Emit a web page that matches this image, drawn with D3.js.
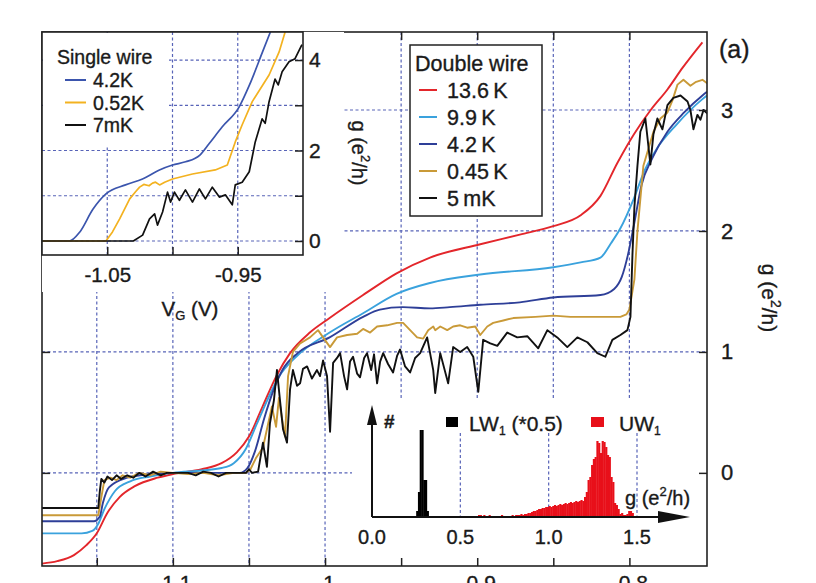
<!DOCTYPE html>
<html>
<head>
<meta charset="utf-8">
<script src="https://cdn.jsdelivr.net/npm/d3@7"></script>
<style>
  body { margin: 0; background: #fff; }
  svg text { font-family: "Liberation Sans", Arial, sans-serif; fill: #1a1a1a; stroke: #1a1a1a; stroke-width: 0.35px; }
</style>
</head>
<body>
<svg id="chart" width="816" height="583"></svg>
<script>
// ---------- data ----------
// double wire, [V_G (V), g (e^2/h)]
const dw136K = [[-1.186,-0.75],[-1.176,-0.73],[-1.165,-0.68],[-1.157,-0.60],[-1.150,-0.50],[-1.143,-0.33],[-1.135,-0.20],[-1.125,-0.11],[-1.110,-0.04],[-1.100,-0.01],[-1.081,0.03],[-1.068,0.08],[-1.058,0.17],[-1.050,0.30],[-1.041,0.55],[-1.032,0.80],[-1.023,0.99],[-1.010,1.16],[-0.997,1.28],[-0.975,1.47],[-0.953,1.65],[-0.931,1.78],[-0.898,1.89],[-0.872,1.97],[-0.850,2.04],[-0.832,2.13],[-0.819,2.29],[-0.808,2.56],[-0.797,2.80],[-0.786,3.00],[-0.775,3.17],[-0.765,3.35],[-0.752,3.56]];
const dw99K = [[-1.186,-0.50],[-1.160,-0.50],[-1.153,-0.48],[-1.149,-0.42],[-1.145,-0.30],[-1.138,-0.15],[-1.128,-0.07],[-1.115,-0.03],[-1.100,0.00],[-1.081,0.02],[-1.068,0.04],[-1.060,0.08],[-1.052,0.20],[-1.045,0.40],[-1.038,0.60],[-1.030,0.80],[-1.019,0.96],[-0.997,1.16],[-0.975,1.32],[-0.953,1.48],[-0.931,1.57],[-0.898,1.64],[-0.850,1.70],[-0.832,1.74],[-0.819,1.78],[-0.812,1.90],[-0.806,2.02],[-0.797,2.27],[-0.790,2.50],[-0.782,2.68],[-0.769,2.88],[-0.752,3.09],[-0.749,3.12]];
const dw42K = [[-1.186,-0.40],[-1.152,-0.40],[-1.148,-0.36],[-1.146,-0.25],[-1.142,-0.12],[-1.130,-0.04],[-1.115,-0.01],[-1.100,0.00],[-1.056,0.00],[-1.051,0.04],[-1.046,0.18],[-1.040,0.45],[-1.034,0.68],[-1.028,0.85],[-1.018,0.99],[-0.997,1.12],[-0.975,1.29],[-0.964,1.35],[-0.949,1.37],[-0.931,1.36],[-0.918,1.37],[-0.898,1.39],[-0.872,1.41],[-0.850,1.45],[-0.819,1.47],[-0.810,1.52],[-0.805,1.62],[-0.801,1.80],[-0.797,2.05],[-0.792,2.38],[-0.785,2.60],[-0.775,2.82],[-0.764,2.98],[-0.752,3.12],[-0.749,3.15]];
const dw045K = [[-1.186,-0.35],[-1.149,-0.35],[-1.147,-0.20],[-1.145,-0.06],[-1.141,-0.04],[-1.137,-0.06],[-1.133,-0.02],[-1.128,-0.04],[-1.122,0.00],[-1.115,-0.02],[-1.108,0.01],[-1.100,0.00],[-1.090,-0.01],[-1.080,0.00],[-1.070,-0.02],[-1.060,0.00],[-1.052,0.00],[-1.049,0.03],[-1.0455,0.12],[-1.0408,0.21],[-1.0375,0.40],[-1.0349,0.55],[-1.0322,0.38],[-1.0303,0.62],[-1.0283,0.45],[-1.0263,0.30],[-1.0243,0.80],[-1.0211,1.00],[-1.0164,1.07],[-1.0099,1.12],[-1.0046,1.18],[-1.0013,1.12],[-0.9967,1.04],[-0.9921,1.12],[-0.9855,1.14],[-0.9789,1.15],[-0.9750,1.19],[-0.9704,1.16],[-0.9658,1.21],[-0.9592,1.22],[-0.9526,1.24],[-0.9487,1.24],[-0.9441,1.18],[-0.9395,1.12],[-0.9355,1.11],[-0.9322,1.18],[-0.9289,1.21],[-0.9276,1.18],[-0.9243,1.21],[-0.9197,1.18],[-0.9158,1.21],[-0.9112,1.22],[-0.9066,1.20],[-0.9013,1.21],[-0.8980,1.14],[-0.8934,1.21],[-0.8895,1.24],[-0.8829,1.26],[-0.8763,1.28],[-0.8618,1.29],[-0.8500,1.30],[-0.8388,1.29],[-0.8257,1.29],[-0.8125,1.29],[-0.8059,1.29],[-0.8020,1.31],[-0.8000,1.35],[-0.7967,1.60],[-0.7947,2.00],[-0.7908,2.54],[-0.7842,2.82],[-0.7796,2.93],[-0.7750,2.98],[-0.7717,3.08],[-0.7684,3.21],[-0.7645,3.25],[-0.7599,3.20],[-0.7566,3.23],[-0.7520,3.25],[-0.7487,3.22]];
const dw5mK = [[-1.186,-0.29],[-1.149,-0.29],[-1.148,-0.15],[-1.147,-0.05],[-1.145,-0.08],[-1.143,-0.03],[-1.140,-0.06],[-1.137,-0.02],[-1.134,-0.05],[-1.130,-0.02],[-1.126,-0.04],[-1.122,0.00],[-1.118,-0.03],[-1.113,0.01],[-1.108,-0.02],[-1.104,0.00],[-1.090,0.00],[-1.085,-0.02],[-1.080,0.01],[-1.075,0.00],[-1.070,-0.03],[-1.065,0.00],[-1.052,0.00],[-1.050,0.03],[-1.048,0.00],[-1.044,0.01],[-1.0408,0.25],[-1.0382,0.05],[-1.0362,0.41],[-1.0336,0.60],[-1.0316,0.85],[-1.0296,0.60],[-1.0276,0.36],[-1.0250,0.25],[-1.0230,0.69],[-1.0211,0.85],[-1.0184,0.72],[-1.0164,0.74],[-1.0145,0.86],[-1.0118,0.88],[-1.0086,0.78],[-1.0053,0.85],[-1.0033,0.80],[-1.0013,0.93],[-0.9987,0.80],[-0.9967,0.34],[-0.9947,0.91],[-0.9921,0.95],[-0.9901,0.99],[-0.9875,0.80],[-0.9855,0.69],[-0.9836,0.92],[-0.9816,0.96],[-0.9789,0.82],[-0.9770,0.79],[-0.9743,0.95],[-0.9724,0.99],[-0.9697,0.85],[-0.9678,0.98],[-0.9658,0.74],[-0.9638,0.92],[-0.9618,0.99],[-0.9586,0.90],[-0.9553,0.83],[-0.9526,0.97],[-0.9507,1.02],[-0.9474,0.88],[-0.9441,0.83],[-0.9408,0.95],[-0.9375,0.99],[-0.9329,1.12],[-0.9289,0.85],[-0.9276,0.66],[-0.9243,0.99],[-0.9191,0.74],[-0.9158,1.04],[-0.9112,1.00],[-0.9066,1.04],[-0.9026,0.96],[-0.8993,0.67],[-0.8961,1.10],[-0.8914,1.07],[-0.8868,1.05],[-0.8803,1.16],[-0.8737,1.12],[-0.8671,1.13],[-0.8599,1.03],[-0.8539,1.18],[-0.8474,1.12],[-0.8408,1.04],[-0.8342,1.12],[-0.8276,1.08],[-0.8211,0.99],[-0.8158,0.96],[-0.8112,1.10],[-0.8059,1.14],[-0.8013,1.18],[-0.7993,1.29],[-0.7980,1.80],[-0.7967,2.20],[-0.7947,2.54],[-0.7928,2.82],[-0.7895,2.93],[-0.7862,2.55],[-0.7842,2.80],[-0.7816,2.93],[-0.7783,2.84],[-0.7750,3.04],[-0.7711,3.10],[-0.7664,3.12],[-0.7618,3.07],[-0.7599,3.00],[-0.7579,2.84],[-0.7553,2.96],[-0.7533,2.92],[-0.7513,3.00],[-0.7487,2.97]];

// single wire inset
const sw42K = [[-1.100,0],[-1.079,0],[-1.071,0.20],[-1.061,0.70],[-1.051,1.04],[-1.036,1.24],[-1.023,1.37],[-1.010,1.57],[-1.000,1.68],[-0.990,1.75],[-0.979,1.90],[-0.972,2.15],[-0.962,2.52],[-0.949,2.96],[-0.941,3.45],[-0.931,4.18],[-0.925,4.62]];
const sw052K = [[-1.100,0],[-1.051,0],[-1.046,0.20],[-1.0405,0.49],[-1.0328,0.93],[-1.028,1.10],[-1.0252,1.19],[-1.022,1.25],[-1.018,1.22],[-1.0153,1.28],[-1.013,1.30],[-1.0099,1.24],[-1.006,1.30],[-1.000,1.37],[-0.9847,1.48],[-0.9672,1.57],[-0.958,1.68],[-0.9519,2.19],[-0.9466,2.57],[-0.9389,3.08],[-0.926,3.67],[-0.9183,4.18],[-0.9137,4.62]];
const sw7mK = [[-1.100,0],[-1.030,0],[-1.0229,0.13],[-1.0176,0.49],[-1.0137,0.60],[-1.0115,0.35],[-1.0076,0.64],[-1.0038,1.08],[-1.0015,0.86],[-0.9985,1.08],[-0.9947,0.90],[-0.9901,1.13],[-0.9847,0.86],[-0.9794,1.15],[-0.9748,0.93],[-0.9695,1.19],[-0.9641,0.97],[-0.9595,1.02],[-0.9542,0.80],[-0.9519,1.24],[-0.9466,1.30],[-0.9412,1.53],[-0.9366,2.19],[-0.9313,2.70],[-0.9290,2.60],[-0.926,3.08],[-0.9214,3.58],[-0.919,3.45],[-0.916,3.74],[-0.9107,3.96],[-0.9061,4.03],[-0.9008,4.34]];

// histogram of g, bins 0.01 wide
const histBin = 0.01;
const lwStart = 0.25;
const lwCounts = [6, 25, 87, 87, 37, 37, 6];
const uwStart = 0.60;
const uwCounts = [2,2,1,2,1,1,2,1,1,1, 1,1,1,2,1,1,1,1,1,2, 1,2,2,2,3,2,3,3,4,4,
  5,6,6,7,8,8,9,9,10,10, 11,10,11,12,11,12,13,12,13,14, 13,14,15,14,15,16,15,16,17,16,
  20,25,37,40,52,58,60,76,74,64, 76,75,70,62,60,40,35,14,12,8, 3,4,2,2,3,6,6,4];

// ticks
const mainXTicks = [-1.15, -1.1, -1.05, -1, -0.95, -0.9, -0.85, -0.8];
const mainXLabels = [-1.1, -1, -0.9, -0.8];
const mainYTicks = [0, 1, 2, 3];
const insetXTicks = [-1.05, -1, -0.95];
const insetXLabels = [-1.05, -0.95];
const insetYTicks = [0, 1, 2, 3, 4];
const insetYLabels = [0, 2, 4];
const histTicks = [0, 0.5, 1, 1.5];

const doubleSeries = [
  { name: '13.6\u2009K', data: dw136K, color: '#e3262b', smooth: true },
  { name: '9.9\u2009K', data: dw99K, color: '#3aa2dd', smooth: true },
  { name: '4.2\u2009K', data: dw42K, color: '#2e3f98', smooth: true },
  { name: '0.45\u2009K', data: dw045K, color: '#c99a38', smooth: false },
  { name: '5\u2009mK', data: dw5mK, color: '#111111', smooth: false }
];
const singleSeries = [
  { name: '4.2K', data: sw42K, color: '#3b55ad', smooth: true },
  { name: '0.52K', data: sw052K, color: '#f3b220', smooth: false },
  { name: '7mK', data: sw7mK, color: '#111111', smooth: false }
];

// ---------- layout ----------
const frame = { left: 42, right: 707, top: 32, bottom: 566 };
const inset = { left: 42, right: 303, top: 32, bottom: 255 };
const gridColor = '#5864b8';
const gridDash = '3,2.5';

const svg = d3.select('#chart');
const defs = svg.append('defs');

const x = d3.scaleLinear().domain([-1.186, -0.749]).range([frame.left, frame.right]);
const y = d3.scaleLinear().domain([-0.77, 3.645]).range([frame.bottom, frame.top]);

defs.append('clipPath').attr('id', 'mainClip').append('rect')
    .attr('x', frame.left).attr('y', frame.top)
    .attr('width', frame.right - frame.left).attr('height', frame.bottom - frame.top);

// main grid
const grid = svg.append('g');
grid.selectAll('.gv').data(mainXTicks).join('line')
    .attr('x1', d => x(d)).attr('x2', d => x(d))
    .attr('y1', frame.top).attr('y2', frame.bottom);
grid.selectAll('.gh').data(mainYTicks).join('line')
    .attr('x1', frame.left).attr('x2', frame.right)
    .attr('y1', d => y(d)).attr('y2', d => y(d));
grid.selectAll('line')
    .attr('stroke', gridColor).attr('stroke-width', 1.2).attr('stroke-dasharray', gridDash);

// histogram inset (white panel hides the grid behind it)
svg.append('rect').attr('x', 352).attr('y', 398)
    .attr('width', frame.right - 352).attr('height', frame.bottom - 398).attr('fill', '#fff');

const hx = d3.scaleLinear().domain([0, 1.5]).range([372, 637]);
const hy = d3.scaleLinear().domain([0, 112]).range([517, 405]);
const hist = svg.append('g');

hist.selectAll('.hg').data(histTicks.slice(1)).join('line')
    .attr('x1', d => hx(d)).attr('x2', d => hx(d))
    .attr('y1', hy(84)).attr('y2', hy(0))
    .attr('stroke', gridColor).attr('stroke-width', 1.2).attr('stroke-dasharray', gridDash);

const lwBins = lwCounts.map((n, i) => ({ g: lwStart + i * histBin, n }));
const uwBins = uwCounts.map((n, i) => ({ g: uwStart + i * histBin, n }));
const barW = hx(histBin) - hx(0);

hist.append('g').selectAll('rect').data(uwBins).join('rect')
    .attr('x', d => hx(d.g)).attr('width', barW + 0.4)
    .attr('y', d => hy(d.n)).attr('height', d => hy(0) - hy(d.n))
    .attr('fill', '#e8101a');
hist.append('g').selectAll('rect').data(lwBins).join('rect')
    .attr('x', d => hx(d.g)).attr('width', barW + 0.4)
    .attr('y', d => hy(d.n)).attr('height', d => hy(0) - hy(d.n))
    .attr('fill', '#000');

// arrows
hist.append('line').attr('x1', hx(0)).attr('x2', hx(1.68)).attr('y1', hy(0)).attr('y2', hy(0))
    .attr('stroke', '#111').attr('stroke-width', 2);
hist.append('path')
    .attr('d', `M${hx(1.8)},${hy(0)} L${hx(1.8) - 32},${hy(0) - 6} L${hx(1.8) - 32},${hy(0) + 6} Z`)
    .attr('fill', '#111');
hist.append('line').attr('x1', hx(0)).attr('x2', hx(0)).attr('y1', hy(0)).attr('y2', hy(100))
    .attr('stroke', '#111').attr('stroke-width', 2);
hist.append('path')
    .attr('d', `M${hx(0)},${hy(112)} L${hx(0) - 5},${hy(92)} L${hx(0) + 5},${hy(92)} Z`)
    .attr('fill', '#111');

hist.selectAll('.ht').data(histTicks).join('text')
    .attr('x', d => hx(d)).attr('y', 544)
    .attr('text-anchor', 'middle').attr('font-size', 20)
    .text(d => d3.format('.1f')(d));

hist.append('text').attr('x', 384).attr('y', 428).attr('font-size', 19).attr('font-weight', 'bold').text('#');

hist.append('rect').attr('x', 446).attr('y', 417).attr('width', 12).attr('height', 10).attr('fill', '#000');
const lwText = hist.append('text').attr('x', 469).attr('y', 431).attr('font-size', 21);
lwText.append('tspan').text('LW');
lwText.append('tspan').attr('font-size', 12).attr('dy', 4).text('1');
lwText.append('tspan').attr('dy', -4).text(' (*0.5)');
hist.append('rect').attr('x', 591).attr('y', 417).attr('width', 13).attr('height', 10).attr('fill', '#e8101a');
const uwText = hist.append('text').attr('x', 619).attr('y', 431).attr('font-size', 21);
uwText.append('tspan').text('UW');
uwText.append('tspan').attr('font-size', 12).attr('dy', 4).text('1');

const hgLabel = hist.append('text').attr('x', 625).attr('y', 505).attr('font-size', 20);
hgLabel.append('tspan').text('g (e');
hgLabel.append('tspan').attr('font-size', 13).attr('dy', -9).text('2');
hgLabel.append('tspan').attr('dy', 9).text('/h)');

// main curves
const curves = svg.append('g').attr('clip-path', 'url(#mainClip)');
doubleSeries.forEach(s => {
    const line = d3.line()
        .x(d => x(d[0])).y(d => y(d[1]))
        .curve(s.smooth ? d3.curveMonotoneX : d3.curveLinear);
    curves.append('path').datum(s.data)
        .attr('d', line).attr('fill', 'none')
        .attr('stroke', s.color).attr('stroke-width', 1.9)
        .attr('stroke-linejoin', 'round');
});

// main axes (ticks point inward)
const noLabel = () => '';
svg.append('g').attr('transform', `translate(0,${frame.bottom})`)
    .call(d3.axisBottom(x).tickValues(mainXTicks).tickSizeInner(-8).tickSizeOuter(0).tickPadding(9)
        .tickFormat(d => mainXLabels.includes(d) ? String(d) : ''))
    .call(g => g.select('.domain').remove())
    .call(g => g.selectAll('text').attr('font-size', 21));
svg.append('g').attr('transform', `translate(0,${frame.top})`)
    .call(d3.axisTop(x).tickValues(mainXTicks).tickSizeInner(-8).tickSizeOuter(0).tickFormat(noLabel))
    .call(g => g.select('.domain').remove());
svg.append('g').attr('transform', `translate(${frame.right},0)`)
    .call(d3.axisRight(y).tickValues(mainYTicks).tickSizeInner(-8).tickSizeOuter(0).tickPadding(14)
        .tickFormat(d3.format('d')))
    .call(g => g.select('.domain').remove())
    .call(g => g.selectAll('text').attr('font-size', 22));
svg.append('g').attr('transform', `translate(${frame.left},0)`)
    .call(d3.axisLeft(y).tickValues(mainYTicks).tickSizeInner(-8).tickSizeOuter(0).tickFormat(noLabel))
    .call(g => g.select('.domain').remove());
svg.selectAll('.tick line').attr('stroke', '#222').attr('stroke-width', 1.5);
svg.selectAll('.tick text').attr('fill', '#1a1a1a').style('font-family', '"Liberation Sans", Arial, sans-serif');

svg.append('rect').attr('x', frame.left).attr('y', frame.top)
    .attr('width', frame.right - frame.left).attr('height', frame.bottom - frame.top)
    .attr('fill', 'none').attr('stroke', '#222').attr('stroke-width', 1.6);

const yLabel = svg.append('text').attr('transform', 'translate(762,298) rotate(90)')
    .attr('text-anchor', 'middle').attr('font-size', 21);
yLabel.append('tspan').text('g (e');
yLabel.append('tspan').attr('font-size', 14).attr('dy', -9).text('2');
yLabel.append('tspan').attr('dy', 9).text('/h)');

svg.append('text').attr('x', 719).attr('y', 58).attr('font-size', 25).text('(a)');

// double wire legend
const leg = svg.append('g');
leg.append('rect').attr('x', 410).attr('y', 45).attr('width', 132).attr('height', 171)
    .attr('fill', '#fff').attr('stroke', '#222').attr('stroke-width', 1.5);
leg.append('text').attr('x', 415).attr('y', 71).attr('font-size', 21.5).text('Double wire');
doubleSeries.forEach((s, i) => {
    const cy = 90 + i * 27;
    leg.append('line').attr('x1', 419).attr('x2', 437).attr('y1', cy).attr('y2', cy)
        .attr('stroke', s.color).attr('stroke-width', 2);
    leg.append('text').attr('x', 447).attr('y', cy + 8).attr('font-size', 21.5).text(s.name);
});

// ---------- single wire inset ----------
const ix = d3.scaleLinear().domain([-1.1, -0.9]).range([inset.left, inset.right]);
const iy = d3.scaleLinear().domain([-0.31, 4.62]).range([inset.bottom, inset.top]);

defs.append('clipPath').attr('id', 'insetClip').append('rect')
    .attr('x', inset.left).attr('y', inset.top)
    .attr('width', inset.right - inset.left).attr('height', inset.bottom - inset.top);

const ins = svg.append('g');
ins.append('rect').attr('x', inset.left).attr('y', inset.top)
    .attr('width', 344 - inset.left).attr('height', 292 - inset.top).attr('fill', '#fff');

const igrid = ins.append('g');
igrid.selectAll('.v').data(insetXTicks).join('line')
    .attr('x1', d => ix(d)).attr('x2', d => ix(d)).attr('y1', inset.top).attr('y2', inset.bottom);
igrid.selectAll('.h').data(insetYTicks).join('line')
    .attr('x1', inset.left).attr('x2', inset.right).attr('y1', d => iy(d)).attr('y2', d => iy(d));
igrid.selectAll('line')
    .attr('stroke', gridColor).attr('stroke-width', 1.2).attr('stroke-dasharray', gridDash);

// legend area blanks the grid
ins.append('rect').attr('x', inset.left + 1).attr('y', inset.top + 1).attr('width', 126).attr('height', 112).attr('fill', '#fff');

const icurves = ins.append('g').attr('clip-path', 'url(#insetClip)');
singleSeries.forEach(s => {
    const line = d3.line()
        .x(d => ix(d[0])).y(d => iy(d[1]))
        .curve(s.smooth ? d3.curveMonotoneX : d3.curveLinear);
    icurves.append('path').datum(s.data)
        .attr('d', line).attr('fill', 'none')
        .attr('stroke', s.color).attr('stroke-width', 1.7)
        .attr('stroke-linejoin', 'round');
});

ins.append('text').attr('x', 57).attr('y', 64).attr('font-size', 19.5).text('Single wire');
singleSeries.forEach((s, i) => {
    const cy = 80 + i * 22.5;
    ins.append('line').attr('x1', 65).attr('x2', 86).attr('y1', cy).attr('y2', cy)
        .attr('stroke', s.color).attr('stroke-width', 2);
    ins.append('text').attr('x', 93).attr('y', cy + 7).attr('font-size', 19.5).text(s.name);
});

ins.append('g').attr('transform', `translate(0,${inset.bottom})`)
    .call(d3.axisBottom(ix).tickValues(insetXTicks).tickSizeInner(-8).tickSizeOuter(0).tickPadding(12)
        .tickFormat(d => insetXLabels.includes(d) ? String(d) : ''))
    .call(g => g.select('.domain').remove())
    .call(g => g.selectAll('text').attr('font-size', 20.5));
ins.append('g').attr('transform', `translate(${inset.right},0)`)
    .call(d3.axisRight(iy).tickValues(insetYTicks).tickSizeInner(-8).tickSizeOuter(0).tickPadding(6)
        .tickFormat(d => insetYLabels.includes(d) ? String(d) : ''))
    .call(g => g.select('.domain').remove())
    .call(g => g.selectAll('text').attr('font-size', 21));
ins.selectAll('.tick line').attr('stroke', '#222').attr('stroke-width', 1.5);
ins.selectAll('.tick text').attr('fill', '#1a1a1a').style('font-family', '"Liberation Sans", Arial, sans-serif');

ins.append('rect').attr('x', inset.left).attr('y', inset.top)
    .attr('width', inset.right - inset.left).attr('height', inset.bottom - inset.top)
    .attr('fill', 'none').attr('stroke', '#222').attr('stroke-width', 1.6);

const vgLabel = ins.append('text').attr('x', 190).attr('y', 316).attr('text-anchor', 'middle').attr('font-size', 20.5);
vgLabel.append('tspan').text('V');
vgLabel.append('tspan').attr('font-size', 13).attr('dy', 4).text('G');
vgLabel.append('tspan').attr('dy', -4).text(' (V)');

const igLabel = ins.append('text').attr('transform', 'translate(352,153) rotate(90)')
    .attr('text-anchor', 'middle').attr('font-size', 20);
igLabel.append('tspan').text('g (e');
igLabel.append('tspan').attr('font-size', 13).attr('dy', -9).text('2');
igLabel.append('tspan').attr('dy', 9).text('/h)');
</script>
</body>
</html>
